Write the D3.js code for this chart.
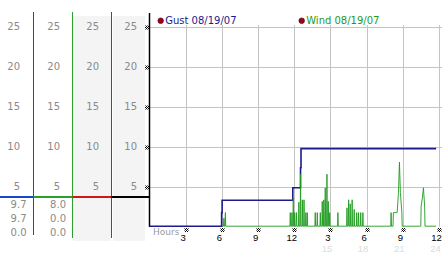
<!DOCTYPE html>
<html><head><meta charset="utf-8">
<script src="https://cdn.jsdelivr.net/npm/d3@7"></script>
<style>
html,body{margin:0;padding:0;background:#fff;}
svg{display:block;font-family:"DejaVu Sans",sans-serif;}
</style></head>
<body><svg id="c" width="442" height="253"></svg>
<script>
// ---- data ----
const yTicks = [5, 10, 15, 20, 25];
const hourTicks = [3, 6, 9, 12, 15, 18, 21, 24];
const hourLabels = ["3", "6", "9", "12", "3", "6", "9", "12"];
const hourLabels24 = ["15", "18", "21", "24"];
const hourTicks24 = [15, 18, 21, 24];
const seriesNames = ["Gust 08/19/07", "Wind 08/19/07"];
const gustStats = ["9.7", "9.7", "0.0"];
const windStats = ["8.0", "0.0", "0.0"];
const gustHours = [0, 5.98, 6.02, 11.88, 12.52, 12.56, 23.76];
const gustMph   = [0, 1.7, 3.25, 4.8, 7.3, 9.7, 9.7];
const windHours = [6.00,6.13,6.17,6.21,6.26,6.29,6.32,
 11.64,11.67,11.70,11.78,11.81,11.84,11.89,11.92,11.95,12.01,12.04,12.07,12.16,12.19,12.22,12.35,12.38,12.41,12.49,12.52,12.55,12.64,12.67,12.70,12.78,12.81,12.84,12.93,12.96,12.99,13.05,13.08,13.11,
 13.71,13.74,13.77,13.88,13.91,13.94,14.13,14.16,14.19,14.29,14.32,14.35,14.42,14.45,14.48,14.54,14.57,14.60,14.68,14.71,14.74,14.79,14.82,14.85,14.91,14.94,14.97,
 15.59,15.62,15.65,
 16.34,16.37,16.40,16.48,16.51,16.54,16.61,16.64,16.67,16.77,16.80,16.83,16.94,16.97,17.00,17.15,17.18,17.21,17.30,17.33,17.36,17.48,17.51,17.54,17.66,17.69,17.72,
 20.00,20.03,20.06,20.19,20.22,20.39,20.53,20.64,20.72,20.80,20.92,20.95,
 22.49,22.52,22.62,22.71,22.81,22.84,23.76];
const windMph = [0,0,1.0,0,0,1.7,0,
 0,1.7,0,0,1.7,0,0,3.5,0,0,1.7,0,0,1.7,0,0,3.0,0,0,6.5,0,0,3.3,0,0,3.3,0,0,1.7,0,0,1.7,0,
 0,1.7,0,0,1.7,0,0,1.7,0,0,3.1,0,0,3.3,0,0,4.8,0,0,6.5,0,0,3.1,0,0,1.7,0,
 0,1.7,0,
 0,2.3,0,0,3.3,0,0,2.8,0,0,3.3,0,0,2.1,0,0,1.7,0,0,1.7,0,0,1.7,0,0,1.7,0,
 0,1.7,0,0,1.7,1.7,1.7,4.2,8.0,4.2,1.7,0,
 0,2.5,3.5,4.8,2.5,0,0];

// ---- layout ----
const svg = d3.select("#c");
const x = d3.scaleLinear().domain([0, 24]).range([149.5, 439]);
const y = d3.scaleLinear().domain([0, 25]).range([226.7, 26.7]);
const gustColor = "#1c1c8e", windColor = "#1f9a1f", labelGray = "#8a8a8a";

// checker pattern for tick markers
const defs = svg.append("defs");
const pat = defs.append("pattern").attr("id","chk").attr("patternUnits","userSpaceOnUse")
  .attr("width",2).attr("height",2);
pat.append("rect").attr("x",0).attr("y",0).attr("width",1).attr("height",1).attr("fill","#000");
pat.append("rect").attr("x",1).attr("y",1).attr("width",1).attr("height",1).attr("fill","#000");

// left panel backgrounds
svg.append("rect").attr("x",73).attr("y",16).attr("width",38).attr("height",225).attr("fill","#f4f4f4");
svg.append("rect").attr("x",113).attr("y",16).attr("width",32).attr("height",225).attr("fill","#f4f4f4");

// left panel labels
const colRight = [20, 60, 99, 137];
colRight.forEach(cx => {
  svg.append("g").selectAll("text").data(yTicks).join("text")
    .attr("x", cx).attr("y", d => y(d) + 3.6).attr("text-anchor","end")
    .attr("font-size", 10).attr("fill", labelGray).text(d => d);
});
// left panel vertical lines
svg.append("line").attr("x1",33.5).attr("x2",33.5).attr("y1",12).attr("y2",235).attr("stroke","#1848c8").attr("stroke-width",1);
svg.append("line").attr("x1",72.5).attr("x2",72.5).attr("y1",12).attr("y2",238).attr("stroke","#2aa02a").attr("stroke-width",1);
svg.append("line").attr("x1",111.5).attr("x2",111.5).attr("y1",12).attr("y2",238).attr("stroke","#c02020").attr("stroke-width",1);
// separator line
const sepY = 197;
[[0,33.5,"#1848c8"],[33.5,72.5,"#2aa02a"],[72.5,111.5,"#d01818"],[111.5,149.5,"#000"]].forEach(s => {
  svg.append("line").attr("x1",s[0]).attr("x2",s[1]).attr("y1",sepY).attr("y2",sepY)
    .attr("stroke",s[2]).attr("stroke-width",2);
});
// stats
const statY = [208, 222, 236];
[[gustStats, 26.5],[windStats, 66]].forEach(([vals, cx]) => {
  svg.append("g").selectAll("text").data(vals).join("text")
    .attr("x", cx).attr("y", (d,i) => statY[i]).attr("text-anchor","end")
    .attr("font-size", 10).attr("fill", labelGray).text(d => d);
});

// grid
svg.append("g").selectAll("line").data(yTicks).join("line")
  .attr("x1", 149.5).attr("x2", 442).attr("y1", d => Math.round(y(d))+0.5).attr("y2", d => Math.round(y(d))+0.5)
  .attr("stroke","#c4c4c4").attr("stroke-width",1);
svg.append("g").selectAll("line").data(hourTicks).join("line")
  .attr("x1", d => Math.round(x(d))+0.5).attr("x2", d => Math.round(x(d))+0.5).attr("y1", 25).attr("y2", 227)
  .attr("stroke","#c4c4c4").attr("stroke-width",1);

// left axis line
svg.append("line").attr("x1",149.5).attr("x2",149.5).attr("y1",13).attr("y2",227).attr("stroke","#000").attr("stroke-width",1.5);
// y markers
svg.append("g").selectAll("rect").data(yTicks).join("rect")
  .attr("x",145).attr("y", d => Math.round(y(d))-1.5).attr("width",4).attr("height",4).attr("fill","url(#chk)");

// series
const gustPts = gustHours.map((h,i)=>[h,gustMph[i]]);
const windPts = windHours.map((h,i)=>[h,windMph[i]]);
svg.append("path").datum(gustPts)
  .attr("d", d3.line().x(d=>x(d[0])).y(d=>y(d[1])-0.5).curve(d3.curveStepAfter))
  .attr("fill","none").attr("stroke",gustColor).attr("stroke-width",1.6);
svg.append("path").datum(windPts)
  .attr("d", d3.line().x(d=>x(d[0])).y(d=>y(d[1])-0.5))
  .attr("fill","none").attr("stroke",windColor).attr("stroke-width",0.9);

// x axis markers & labels
svg.append("g").selectAll("rect").data(hourTicks).join("rect")
  .attr("x", d => Math.round(x(d))-1.5).attr("y",228).attr("width",4).attr("height",4).attr("fill","url(#chk)");
const xa = d3.axisBottom(x).tickValues(hourTicks).tickSize(0).tickPadding(0)
  .tickFormat((d,i) => hourLabels[i]);
const gx = svg.append("g").attr("transform","translate(-3,0)").call(xa);
gx.select(".domain").remove();
gx.selectAll("text").attr("font-size",9.5).attr("fill","#000").attr("font-family","Liberation Sans")
  .attr("y",240.5).attr("dy",null);
svg.append("g").selectAll("text").data(hourTicks24).join("text")
  .attr("x", d => x(d)-3.5).attr("y", 251.5).attr("text-anchor","middle")
  .attr("font-family","Liberation Sans")
  .attr("font-size",9.5).attr("fill","#dcdcdc").text((d,i)=>hourLabels24[i]);
svg.append("text").attr("x",153).attr("y",235).attr("font-size",9).attr("fill","#9a9a9a").text("Hours");

// legend
const legX = [160.7, 301.7];
const legC = [gustColor, windColor];
seriesNames.forEach((n,i) => {
  svg.append("circle").attr("cx",legX[i]).attr("cy",20.7).attr("r",2.8).attr("fill","#a00018").attr("stroke","#500010").attr("stroke-width",0.6);
  svg.append("text").attr("x",legX[i]+4.5).attr("y",24.3).attr("font-size",10).attr("fill",legC[i]).text(n);
});
</script></body></html>
